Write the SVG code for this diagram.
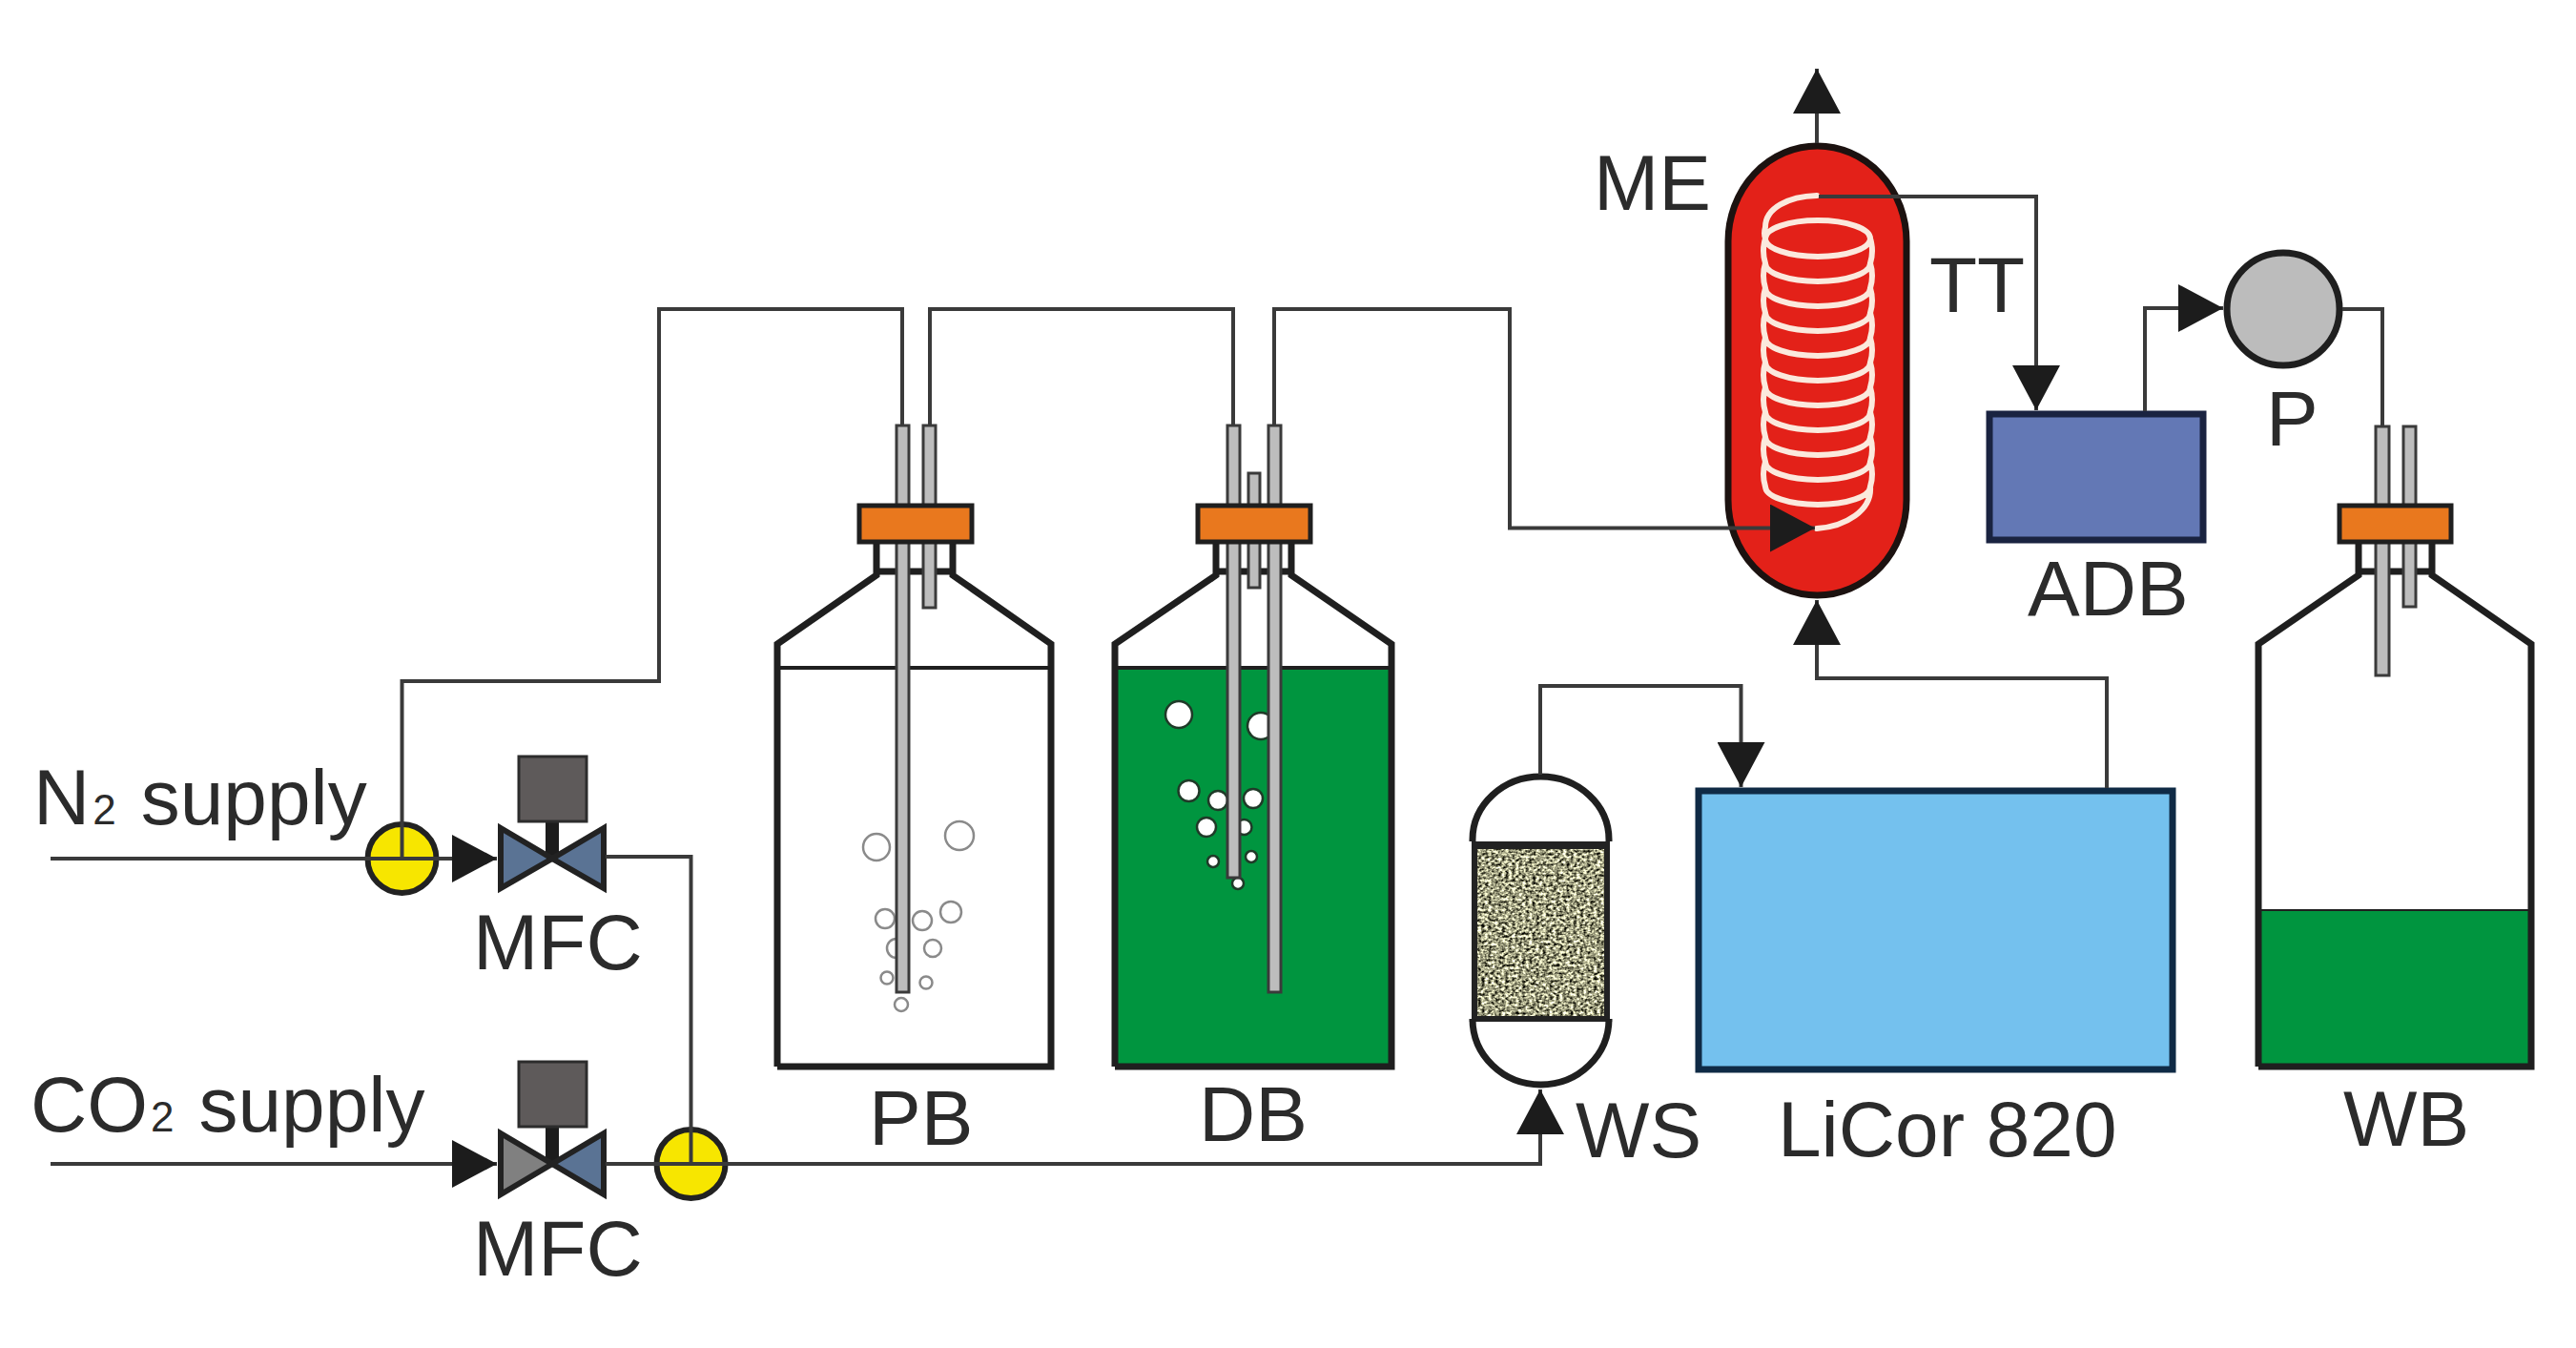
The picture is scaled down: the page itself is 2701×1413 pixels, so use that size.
<svg xmlns="http://www.w3.org/2000/svg" width="2701" height="1413" viewBox="0 0 2701 1413">
<style>
text{font-family:"Liberation Sans",Arial,sans-serif;font-size:82px;fill:#2b2b2b}
.sub{font-size:44px}
.c{fill:none;stroke:#3a3a3a;stroke-width:4}
.a{marker-end:url(#arrow)}
.wall{fill:none;stroke:#1f1f1f;stroke-width:7;stroke-linejoin:miter}
.lvl{stroke:#1f1f1f;stroke-width:4}
.tube{fill:#bdbdbd;stroke:#3a3a3a;stroke-width:3}
.cap{fill:#e9781e;stroke:#1f1f1f;stroke-width:5}
.bg{fill:none;stroke:#8a8a8a;stroke-width:2.5}
.bw{fill:#fff;stroke:#1f3a28;stroke-width:2.5}
.vb{fill:#5a7394;stroke:#222;stroke-width:6;stroke-linejoin:miter}
.act{fill:#5e5a5a;stroke:#2c2c2c;stroke-width:3}
.yel{fill:#f7e600;stroke:#222;stroke-width:6}
</style>
<defs>
<marker id="arrow" markerUnits="userSpaceOnUse" markerWidth="48" markerHeight="50" refX="47" refY="25" orient="auto" viewBox="0 0 48 50"><path d="M0,0L47,25L0,50Z" fill="#1c1c1c"/></marker>
<filter id="grain" x="0" y="0" width="1" height="1" color-interpolation-filters="sRGB"><feTurbulence type="fractalNoise" baseFrequency="0.28 0.36" numOctaves="2" seed="4"/><feColorMatrix type="matrix" values="2.2 0 0 0 -0.48 2.2 0 0 0 -0.48 1.9 0 0 0 -0.45 0 0 0 0 1"/><feGaussianBlur stdDeviation="0.7"/></filter>
</defs>
<rect width="2701" height="1413" fill="#fff"/>

<g id="n2-junction"><circle class="yel" cx="421.5" cy="900" r="36"/></g>
<g id="co2-junction"><circle class="yel" cx="724.5" cy="1220" r="36"/></g>

<g id="mfc-n2">
<rect x="572" y="855" width="14" height="45" fill="#1c1c1c"/>
<rect class="act" x="544" y="793" width="71" height="68"/>
<path class="vb" d="M525,868L579,900L525,931Z"/>
<path class="vb" d="M633,868L579,900L633,931Z"/>
<text x="496" y="1016">MFC</text>
</g>
<g id="mfc-co2">
<rect x="572" y="1175" width="14" height="45" fill="#1c1c1c"/>
<rect class="act" x="544" y="1113" width="71" height="68"/>
<path class="vb" style="fill:#808080" d="M525,1188L579,1220L525,1252Z"/>
<path class="vb" d="M633,1188L579,1220L633,1252Z"/>
<text x="496" y="1337">MFC</text>
</g>
<g id="n2-label"><text x="35" y="864">N<tspan class="sub" dx="3">2</tspan><tspan dx="26">supply</tspan></text></g>
<g id="co2-label"><text x="32" y="1186">CO<tspan class="sub" dx="3">2</tspan><tspan dx="26">supply</tspan></text></g>

<g id="PB">
<path class="wall" d="M815,1118H1102V675L999,603V568M815,1118V675L919,603V568M922,599H996"/>
<path class="lvl" d="M815,700H1102"/>
<circle class="bg" cx="919" cy="888" r="14"/><circle class="bg" cx="1006" cy="876" r="15"/><circle class="bg" cx="928" cy="963" r="10"/><circle class="bg" cx="967" cy="965" r="10"/><circle class="bg" cx="997" cy="956" r="11"/><circle class="bg" cx="940" cy="994" r="10"/><circle class="bg" cx="978" cy="994" r="9"/><circle class="bg" cx="930" cy="1025" r="6.5"/><circle class="bg" cx="971" cy="1030" r="6.5"/><circle class="bg" cx="945" cy="1053" r="7"/>
<rect class="tube" x="940" y="446" width="13" height="594"/>
<rect class="tube" x="968" y="446" width="13" height="191"/>
<rect class="cap" x="901" y="530" width="118" height="38"/>
<text x="911" y="1200">PB</text>
</g>

<g id="DB">
<path fill="#00953f" d="M1169,700H1459V1118H1169Z"/>
<path class="wall" d="M1169,1118H1459V675L1354,603V568M1169,1118V675L1275,603V568M1277,599H1352"/>
<path class="lvl" d="M1169,700H1459"/>
<circle class="bw" cx="1236" cy="749" r="14"/><circle class="bw" cx="1322" cy="761" r="14"/><circle class="bw" cx="1246.5" cy="829" r="11"/><circle class="bw" cx="1277" cy="839" r="10"/><circle class="bw" cx="1314" cy="837" r="10"/><circle class="bw" cx="1265" cy="867" r="10"/><circle class="bw" cx="1304.5" cy="867" r="8"/><circle class="bw" cx="1272" cy="903" r="6"/><circle class="bw" cx="1312" cy="898" r="6"/><circle class="bw" cx="1298" cy="926" r="6"/>
<rect class="tube" x="1287" y="446" width="13" height="474"/>
<rect class="tube" x="1330" y="446" width="13" height="594"/>
<rect class="tube" x="1309" y="496" width="12" height="120"/>
<rect class="cap" x="1256" y="530" width="118" height="38"/>
<text x="1257" y="1196">DB</text>
</g>

<g id="WS">
<rect x="1543" y="882" width="145" height="189" fill="#222"/>
<rect x="1549" y="890" width="133" height="175" fill="#999" filter="url(#grain)"/>
<path fill="none" stroke="#1f1f1f" stroke-width="7" d="M1544,1071V1068A71.5,69 0 0 0 1687,1068V1071M1544,882V880A71.5,66 0 0 1 1687,880V882"/>
<text x="1652" y="1213">WS</text>
</g>

<g id="LiCor">
<rect x="1781" y="829" width="497" height="292" fill="#74c1ee" stroke="#0f2a45" stroke-width="7"/>
<text x="1864" y="1212">LiCor 820</text>
</g>

<g id="ME">
<rect x="1812" y="153" width="187" height="471" rx="93.5" ry="100" fill="#e32119" stroke="#1c1210" stroke-width="7"/>
<path fill="none" stroke="#fbe9dd" stroke-width="6" stroke-linecap="round" d="M1905,205C1875,206 1851,218 1851,238Q1849,245 1851,250A55,19 0 0 1 1961,250A55,19 0 0 1 1851,250Q1847,263 1851,276A55,19 0 0 0 1961,276Q1965,263 1961,250M1851,276Q1847,289 1851,302A55,19 0 0 0 1961,302Q1965,289 1961,276M1851,302Q1847,315 1851,328A55,19 0 0 0 1961,328Q1965,315 1961,302M1851,328Q1847,341 1851,354A55,19 0 0 0 1961,354Q1965,341 1961,328M1851,354Q1847,367 1851,380A55,19 0 0 0 1961,380Q1965,367 1961,354M1851,380Q1847,393 1851,406A55,19 0 0 0 1961,406Q1965,393 1961,380M1851,406Q1847,419 1851,432A55,19 0 0 0 1961,432Q1965,419 1961,406M1851,432Q1847,445 1851,458A55,19 0 0 0 1961,458Q1965,445 1961,432M1851,458Q1847,471 1851,484A55,19 0 0 0 1961,484Q1965,471 1961,458M1851,484Q1847,497 1851,510A55,19 0 0 0 1961,510Q1965,497 1961,484M1961,510C1963,535 1935,552 1905,554"/>
<text x="1671" y="220">ME</text>
</g>
<g id="TT"><text x="2023" y="327">TT</text></g>

<g id="ADB">
<rect x="2086" y="434" width="224" height="132" fill="#6378b5" stroke="#1a2340" stroke-width="7"/>
<text x="2126" y="645">ADB</text>
</g>

<g id="P">
<circle cx="2394" cy="324" r="59" fill="#bcbcbc" stroke="#1f1f1f" stroke-width="7"/>
<text x="2376" y="467">P</text>
</g>

<g id="WB">
<path fill="#00953f" d="M2368,954H2654V1118H2368Z"/>
<path class="wall" d="M2368,1118H2654V675L2550,603V568M2368,1118V675L2473,603V568M2475,599H2548"/>
<path class="lvl" style="stroke-width:2" d="M2368,954H2654"/>
<rect class="tube" x="2491" y="447" width="14" height="261"/>
<rect class="tube" x="2520" y="447" width="13" height="189"/>
<rect class="cap" x="2453" y="530" width="117" height="38"/>
<text x="2457" y="1201">WB</text>
</g>

<g id="connectors">
<path class="c a" d="M53,900H521"/>
<path class="c" d="M421.5,900V714H691V324H946V446"/>
<path class="c" d="M975,446V324H1293V446"/>
<path class="c a" d="M1336,446V324H1583V553.5H1903"/>
<path class="c a" d="M53,1220H521"/>
<path class="c" d="M635,898H724.5V1220"/>
<path class="c a" d="M635,1220H1615V1142"/>
<path class="c a" d="M1615,812V719H1825.5V825"/>
<path class="c a" d="M2209,826V711H1905V629"/>
<path class="c a" d="M1905,150V72"/>
<path class="c a" d="M1907,206H2135V430"/>
<path class="c a" d="M2249,431V323H2331"/>
<path class="c" d="M2456,324H2498V447"/>
</g>
</svg>
